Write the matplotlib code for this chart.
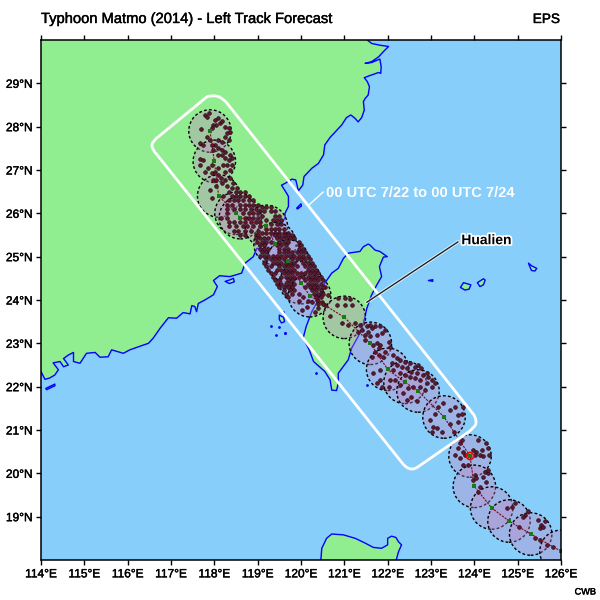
import matplotlib
matplotlib.use('Agg')
import matplotlib.pyplot as plt
from matplotlib.patches import Circle, Polygon
import matplotlib.patheffects as pe

plt.rcParams['font.family'] = ['Liberation Sans', 'DejaVu Sans']

lon_ticks = [114, 115, 116, 117, 118, 119, 120, 121, 122, 123, 124, 125, 126]
lat_ticks = [19, 20, 21, 22, 23, 24, 25, 26, 27, 28, 29]

# coast outlines, lon/lat
china = [(121.53, 30.0), (121.63, 29.92), (121.82, 29.88), (122.02, 29.85), (121.9, 29.73), (121.79, 29.61),
         (121.63, 29.5), (121.48, 29.46), (121.63, 29.48), (121.82, 29.56), (121.85, 29.38), (121.84, 29.23),
         (121.79, 29.25), (121.59, 29.18), (121.46, 29.13), (121.53, 29.04), (121.58, 28.92), (121.55, 28.73),
         (121.48, 28.65), (121.44, 28.58), (121.46, 28.38), (121.4, 28.21), (121.32, 28.11), (121.25, 28.19),
         (121.15, 28.27), (121.05, 28.21), (120.94, 28.04), (120.67, 27.75), (120.55, 27.58), (120.52, 27.35),
         (120.4, 27.15), (120.25, 27.04), (120.07, 26.85), (120.04, 26.65), (119.94, 26.52), (119.88, 26.77),
         (119.79, 26.79), (119.63, 26.69), (119.55, 26.65), (119.67, 26.46), (119.71, 26.39), (119.71, 26.16),
         (119.63, 26.0), (119.63, 25.89), (119.55, 25.77), (119.4, 25.58), (119.36, 25.46), (119.21, 25.42),
         (119.15, 25.35), (119.22, 25.27), (119.13, 25.19), (118.98, 25.19), (118.9, 25.0), (118.71, 24.85),
         (118.63, 24.62), (118.36, 24.54), (118.12, 24.56), (117.98, 24.45), (118.07, 24.31), (117.98, 24.12),
         (117.78, 24.0), (117.63, 23.92), (117.59, 23.73), (117.55, 23.85), (117.48, 23.87), (117.44, 23.68),
         (117.28, 23.71), (117.13, 23.58), (116.94, 23.59), (116.75, 23.35), (116.59, 23.12), (116.48, 23.0),
         (116.36, 22.96), (116.05, 22.85), (115.9, 22.77), (115.63, 22.85), (115.55, 22.69), (115.36, 22.68),
         (115.25, 22.79), (115.05, 22.77), (114.9, 22.54), (114.75, 22.58), (114.75, 22.79), (114.63, 22.73),
         (114.52, 22.65), (114.63, 22.5), (114.52, 22.46), (114.44, 22.58), (114.28, 22.55), (114.4, 22.39),
         (114.32, 22.27), (114.2, 22.2), (114.09, 22.17), (114.0, 22.35), (113.9, 22.35), (113.9, 30.1),
         (121.53, 30.1)]
taiwan = [(121.55, 25.29), (121.44, 25.23), (121.36, 25.12), (121.09, 25.08), (120.98, 24.96), (120.86, 24.73),
          (120.71, 24.62), (120.55, 24.39), (120.44, 24.08), (120.25, 23.73), (120.12, 23.39), (120.05, 23.12),
          (120.19, 22.85), (120.29, 22.58), (120.55, 22.35), (120.67, 22.16), (120.71, 21.92), (120.82, 21.91),
          (120.86, 22.08), (120.86, 22.31), (121.09, 22.62), (121.17, 22.89), (121.32, 23.16), (121.44, 23.46),
          (121.52, 23.81), (121.63, 24.12), (121.75, 24.35), (121.86, 24.54), (121.81, 24.77), (121.9, 24.99),
          (121.99, 25.0), (121.82, 25.12), (121.71, 25.15), (121.59, 25.27)]
luzon = [(120.45, 17.9), (120.48, 18.27), (120.59, 18.5), (120.71, 18.6), (120.98, 18.58), (121.25, 18.5),
         (121.48, 18.39), (121.67, 18.29), (121.86, 18.27), (122.0, 18.35), (122.0, 18.5), (122.09, 18.55),
         (122.19, 18.52), (122.25, 18.42), (122.32, 18.35), (122.25, 18.19), (122.17, 17.9)]
islands = [
    [(123.68, 24.29), (123.75, 24.4), (123.92, 24.35), (123.88, 24.25), (123.78, 24.23)],
    [(124.07, 24.4), (124.21, 24.49), (124.25, 24.46), (124.21, 24.35), (124.13, 24.31)],
    [(125.25, 24.85), (125.32, 24.79), (125.44, 24.73), (125.4, 24.67), (125.32, 24.68), (125.28, 24.77)],
    [(122.94, 24.45), (123.04, 24.47), (123.04, 24.43)],
    [(119.5, 23.65), (119.6, 23.6), (119.62, 23.5), (119.55, 23.47), (119.5, 23.55)],
    [(118.25, 24.43), (118.35, 24.46), (118.44, 24.5), (118.46, 24.42), (118.35, 24.38)],
    [(119.9, 26.12), (120.0, 26.22), (120.01, 26.17), (119.92, 26.1)],
    [(114.11, 21.96), (114.32, 22.06), (114.32, 22.02), (114.13, 21.93)],
]
tiny_lon = [119.59, 119.3, 119.49, 119.42, 119.63, 120.35, 121.53, 119.63]
tiny_lat = [23.73, 23.39, 23.37, 23.19, 23.25, 22.32, 22.04, 23.23]

# ensemble mean positions, also the circle centres and the track
track_lon = [117.9, 118.0, 118.1, 118.5, 118.6, 119.2, 119.4, 119.7, 120.0, 120.2, 121.0, 121.6, 122.0, 122.4,
             122.7, 123.3, 123.9, 124.0, 124.4, 124.8, 125.3, 126.0]
track_lat = [27.9, 27.2, 26.4, 26.0, 25.9, 25.7, 25.3, 24.9, 24.4, 24.1, 23.6, 23.0, 22.4, 22.1,
             21.9, 21.3, 20.4, 19.7, 19.2, 18.9, 18.6, 18.2]

# member positions, north part and southern tail
members = [(117.79, 28.27), (117.83, 28.23), (117.87, 28.31), (117.69, 27.94), (118.02, 28.15), (118.09, 28.19),
           (118.13, 28.08), (118.05, 28.04), (117.98, 28.04), (118.17, 28.12), (118.25, 28.0), (118.33, 27.96),
           (118.36, 27.88), (118.29, 27.85), (118.25, 27.77), (118.33, 27.69), (118.17, 27.65), (118.09, 27.69),
           (117.94, 27.96), (117.84, 27.77), (117.89, 27.69), (117.66, 27.62), (117.75, 27.58), (118.02, 27.58),
           (117.94, 27.58), (117.98, 27.46), (118.09, 27.5), (118.17, 27.46), (118.25, 27.42), (118.36, 27.35),
           (118.4, 27.27), (118.33, 27.23), (118.25, 27.27), (118.17, 27.35), (118.09, 27.35), (117.66, 27.26),
           (117.75, 27.23), (117.67, 27.12), (117.86, 27.04), (117.94, 27.12), (117.79, 26.96), (117.94, 26.92),
           (118.02, 26.96), (118.09, 27.04), (118.21, 27.12), (118.3, 27.12), (118.4, 27.12), (118.36, 27.0),
           (118.25, 26.96), (118.09, 26.88), (117.98, 26.77), (118.05, 26.77), (118.15, 26.81), (118.25, 26.77),
           (118.36, 26.81), (118.44, 26.69), (118.52, 26.58), (118.4, 26.58), (118.29, 26.62), (118.17, 26.69),
           (118.05, 26.62), (117.89, 26.54), (117.94, 26.35),
           (120.02, 23.77), (120.13, 23.85), (120.25, 23.96), (120.36, 24.0), (120.4, 24.11), (120.48, 24.19),
           (120.55, 24.31), (120.63, 24.12), (120.48, 23.96), (120.55, 23.89), (120.4, 23.81), (120.32, 23.73),
           (120.82, 23.89), (120.86, 24.04), (121.02, 24.04), (121.13, 24.02), (121.02, 23.89), (121.17, 23.89),
           (120.67, 23.62), (120.94, 23.46), (121.09, 23.42), (121.25, 23.46), (121.36, 23.42), (121.4, 23.31),
           (121.32, 23.27),
           (121.52, 23.39), (121.59, 23.43), (121.63, 23.35), (121.55, 23.27), (121.48, 23.19), (121.71, 23.39),
           (121.82, 23.39), (121.94, 23.31), (121.86, 23.23), (121.75, 23.19), (121.59, 23.16), (121.48, 23.08),
           (121.67, 22.96), (121.75, 23.0), (121.82, 22.96), (122.02, 23.04), (122.05, 22.92), (121.94, 22.81),
           (121.79, 22.89), (121.71, 22.81), (121.79, 22.73), (121.9, 22.69), (121.63, 22.69),
           (122.13, 22.73), (122.21, 22.66), (122.28, 22.62), (122.4, 22.58), (122.51, 22.54), (122.63, 22.46),
           (122.71, 22.5), (122.78, 22.42), (122.9, 22.31), (122.94, 22.23), (123.02, 22.15), (123.09, 22.08),
           (122.82, 22.27), (122.67, 22.31), (122.55, 22.35), (122.44, 22.42), (122.32, 22.46), (122.21, 22.5),
           (122.09, 22.54), (122.13, 22.39), (122.28, 22.31), (122.4, 22.27), (122.51, 22.23), (122.63, 22.19),
           (122.75, 22.15), (122.9, 22.08), (123.02, 22.0), (122.86, 21.92), (122.75, 22.0), (122.59, 22.0),
           (122.48, 21.96), (122.36, 21.85), (122.44, 21.69), (122.55, 21.77), (122.67, 21.66), (122.28, 22.04),
           (122.17, 22.15), (121.82, 22.15), (121.75, 22.08), (121.86, 22.0), (122.02, 22.0), (122.05, 22.15),
           (121.67, 22.31), (121.82, 22.39),
           (123.02, 20.96), (123.05, 21.08), (123.13, 21.04), (123.25, 20.96), (123.09, 21.38), (123.17, 21.54),
           (123.28, 21.62), (123.44, 21.46), (123.55, 21.54), (123.63, 21.35), (123.71, 21.38), (123.75, 21.54),
           (123.63, 21.19), (122.98, 21.23), (123.44, 21.15), (123.52, 20.96),
           (123.67, 20.69), (123.71, 20.77), (123.63, 20.58), (123.75, 20.5), (123.55, 20.42), (123.67, 20.35),
           (123.79, 20.42), (123.98, 20.54), (124.05, 20.5), (124.17, 20.54), (124.13, 20.42), (124.02, 20.42),
           (124.09, 20.77), (124.28, 20.69), (124.32, 20.58), (124.35, 20.42), (124.21, 20.39), (123.86, 20.19),
           (123.75, 20.19), (124.02, 19.96), (123.98, 19.85), (124.25, 20.04), (124.32, 20.0), (124.21, 19.92),
           (124.28, 19.81), (124.32, 20.08), (124.05, 19.9), (124.13, 19.69), (124.09, 19.58), (124.94, 19.31),
           (124.86, 19.23), (124.75, 19.19), (125.17, 19.04), (125.25, 19.12), (125.13, 19.0), (125.02, 18.77),
           (125.48, 18.92), (125.55, 18.81), (125.63, 18.89), (125.52, 18.73), (125.59, 18.77), (125.4, 18.5),
           (125.52, 18.46), (125.67, 18.35), (125.82, 18.31)]

# the packed part of the track, one row per latitude
packed_rows = [
    (26.50, [118.35, 118.5, 118.6, 118.7]),
    (26.40, [118.2, 118.4, 118.5, 118.6, 118.7, 118.8]),
    (26.30, [118.35, 118.45, 118.55, 118.65, 118.8, 118.9]),
    (26.20, [118.3, 118.4, 118.6, 118.7, 118.8, 118.9, 119.0]),
    (26.15, [119.1, 119.2, 119.3]),
    (26.10, [118.3, 118.45, 118.6, 118.7, 118.85, 118.95]),
    (26.05, [119.05, 119.15, 119.3, 119.4]),
    (26.00, [118.3, 118.65, 118.8, 118.9, 119.0]),
    (25.95, [119.1, 119.4, 119.5]),
    (25.90, [118.15, 118.3, 118.7, 118.8, 118.9, 119.0]),
    (25.85, [119.2, 119.35, 119.45, 119.55]),
    (25.80, [118.35, 118.45, 118.6, 118.7, 118.85, 118.95, 119.05]),
    (25.75, [119.3, 119.45, 119.55]),
    (25.70, [118.35, 118.5, 118.65, 118.75, 118.9, 119.05]),
    (25.65, [119.2, 119.3, 119.4, 119.5, 119.6]),
    (25.60, [118.45, 118.55, 118.7, 118.85, 119.0]),
    (25.55, [119.1, 119.2, 119.3, 119.4, 119.5, 119.6, 119.7]),
    (25.50, [118.6, 118.7, 118.95, 119.0, 119.4, 119.5, 119.6, 119.7, 119.8]),
    (25.42, [118.95, 119.05, 119.15, 119.25, 119.45, 119.55, 119.65, 119.75, 119.85]),
    (25.34, [118.98, 119.1, 119.2, 119.3, 119.5, 119.6, 119.7, 119.95]),
    (25.26, [119.05, 119.15, 119.45, 119.55, 119.65, 119.95, 120.0]),
    (25.18, [119.05, 119.15, 119.25, 119.5, 119.6, 119.7, 119.95, 120.05]),
    (25.10, [119.1, 119.2, 119.5, 119.6, 119.7, 119.8, 119.9, 120.0, 120.1]),
    (25.02, [119.05, 119.15, 119.25, 119.35, 119.45, 119.55, 119.65, 119.75, 119.85, 119.95, 120.05, 120.15]),
    (24.94, [119.2, 119.3, 119.4, 119.5, 119.6, 119.8, 119.9, 120.0, 120.1, 120.2]),
    (24.86, [119.15, 119.35, 119.45, 119.55, 119.65, 119.75, 119.85, 120.05, 120.15, 120.25]),
    (24.78, [119.2, 119.3, 119.5, 119.6, 119.7, 119.8, 119.9, 120.1, 120.2, 120.3]),
    (24.70, [119.25, 119.45, 119.55, 119.65, 119.75, 119.85, 120.15, 120.25, 120.35]),
    (24.62, [119.3, 119.4, 119.6, 119.7, 119.8, 119.9, 120.0, 120.1, 120.2, 120.3, 120.4]),
    (24.54, [119.35, 119.55, 119.65, 119.75, 119.85, 119.95, 120.05, 120.15, 120.25, 120.35, 120.45]),
    (24.46, [119.4, 119.5, 119.7, 119.8, 120.1, 120.2, 120.3, 120.4, 120.5]),
    (24.38, [119.45, 119.55, 119.65, 119.75, 119.85, 120.15, 120.25, 120.35, 120.45]),
    (24.30, [119.5, 119.6, 119.7, 119.8, 120.1, 120.2, 120.3, 120.4, 120.5]),
    (24.22, [119.6, 119.75, 119.85, 120.25, 120.35, 120.45]),
    (24.14, [119.65, 119.8, 119.95, 120.3, 120.4, 120.5]),
    (24.06, [119.7, 120.05, 120.35, 120.45]),
    (23.98, [119.95, 120.15, 120.4]),
    (23.90, [120.4, 120.5]),
]

# rounded white box around the left track members
box = [(117.83, 28.69), (117.92, 28.71), (118.02, 28.71), (118.11, 28.69), (118.2, 28.63), (118.27, 28.57),
       (123.99, 21.35), (124.03, 21.26), (124.04, 21.18), (124.03, 21.12), (123.99, 21.07), (123.9, 20.98),
       (122.7, 20.15), (122.65, 20.12), (122.59, 20.1), (122.53, 20.1), (122.47, 20.12), (122.41, 20.16),
       (122.35, 20.22), (116.68, 27.35), (116.62, 27.42), (116.58, 27.49), (116.56, 27.55), (116.57, 27.62),
       (116.65, 27.72)]

land_color = '#90EE90'
sea_color = '#87CEFA'
coast_color = '#0000FF'

fig = plt.figure(figsize=(6, 6), dpi=100)
ax = fig.add_axes([41 / 600, 40 / 600, 520 / 600, 520 / 600])
ax.set_facecolor(sea_color)

for shape in [china, taiwan, luzon] + islands:
    ax.add_patch(Polygon(shape, closed=True, facecolor=land_color, edgecolor=coast_color, lw=1, joinstyle='round',
                         zorder=2))
ax.scatter(tiny_lon, tiny_lat, s=4, c=coast_color, linewidths=0, zorder=2)

for i in range(len(track_lon)):
    ax.add_patch(Circle((track_lon[i], track_lat[i]), 0.49, facecolor=(194 / 255, 137 / 255, 197 / 255, 0.37),
                        edgecolor='black', lw=1, ls=(0, (2, 1.6)), zorder=3))

member_lon = [m[0] for m in members]
member_lat = [m[1] for m in members]
for row in packed_rows:
    for lon in row[1]:
        member_lon.append(lon)
        member_lat.append(row[0])
ax.scatter(member_lon, member_lat, s=7, facecolor='#5e1a30', edgecolor='#2b0a15', linewidths=0.5, zorder=4)

ax.plot(track_lon, track_lat, color='#7a0a20', lw=0.8, ls=(0, (2, 1)), zorder=4)
ax.scatter([123.9], [20.4], s=26, facecolor='none', edgecolor='red', linewidths=1.2, zorder=5)
ax.scatter(track_lon, track_lat, s=12, marker='s', c='#1a7a1a', linewidths=0, zorder=6)

ax.add_patch(Polygon(box, closed=True, facecolor='none', edgecolor='white', lw=2, joinstyle='round', zorder=7))

ax.plot([120.51, 120.18], [26.49, 26.19], color='white', lw=1, zorder=7)
ax.text(120.58, 26.48, '00 UTC 7/22 to 00 UTC 7/24', color='white', fontsize=10.5, fontweight='bold',
        va='center', ha='left', zorder=8)

ax.plot([123.62, 121.52], [25.34, 23.95], color='#222222', lw=1, zorder=8,
        path_effects=[pe.Stroke(linewidth=2.4, foreground='white', alpha=0.7), pe.Normal()])
ax.text(123.7, 25.38, 'Hualien', color='black', fontsize=10, fontweight='bold', va='center', ha='left', zorder=9,
        path_effects=[pe.withStroke(linewidth=2.5, foreground='white')])

ax.set_xlim(114, 126)
ax.set_ylim(18, 30)
ax.set_xticks(lon_ticks)
ax.set_xticklabels(['{}°E'.format(v) for v in lon_ticks])
ax.set_yticks(lat_ticks)
ax.set_yticklabels(['{}°N'.format(v) for v in lat_ticks])
ax.tick_params(top=True, right=True, length=3.5, width=1, labelsize=8.6, pad=2.5)
for s in ax.spines.values():
    s.set_linewidth(1.1)
    s.set_zorder(10)

bold_ish = [pe.withStroke(linewidth=0.3, foreground='black')]
for lab in ax.get_xticklabels() + ax.get_yticklabels():
    lab.set_path_effects(bold_ish)
fig.text(41 / 600, 1 - 19 / 600, 'Typhoon Matmo (2014) - Left Track Forecast', fontsize=10.6, va='center', ha='left',
         path_effects=bold_ish)
fig.text(560 / 600, 1 - 19 / 600, 'EPS', fontsize=9.8, va='center', ha='right', path_effects=bold_ish)
fig.text(596 / 600, 1 - 592 / 600, 'CWB', fontsize=6.6, va='center', ha='right', path_effects=bold_ish)

plt.savefig('out.png', dpi=100)
